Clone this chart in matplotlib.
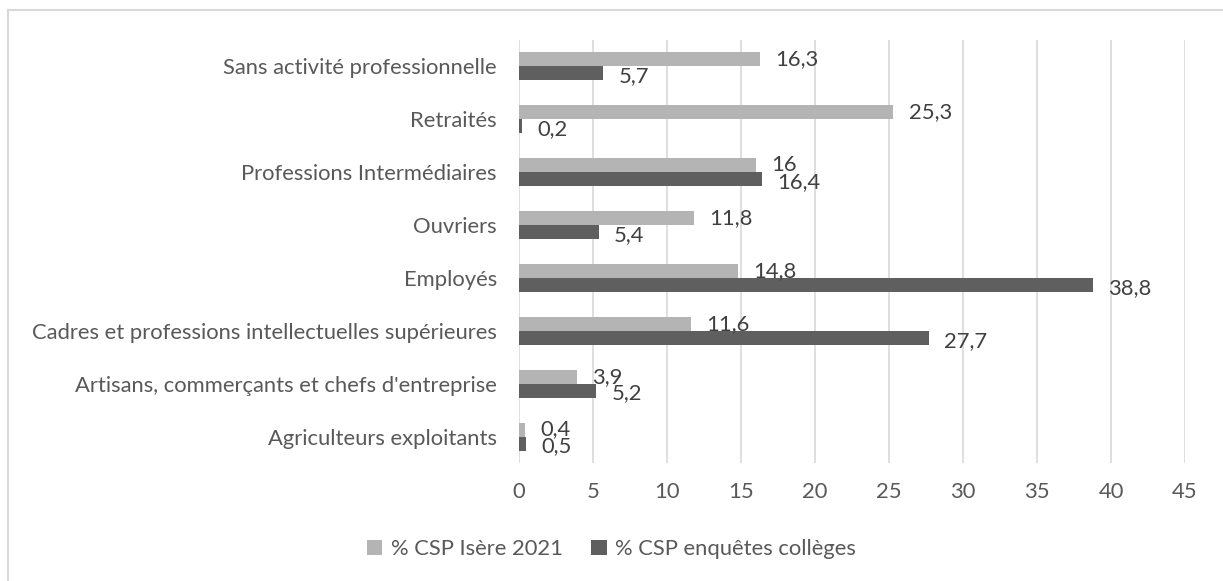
import numpy as np
import matplotlib.pyplot as plt
from matplotlib.lines import Line2D

categories = ['Agriculteurs exploitants',
              "Artisans, commerçants et chefs d'entreprise",
              'Cadres et professions intellectuelles supérieures',
              'Employés',
              'Ouvriers',
              'Professions Intermédiaires',
              'Retraités',
              'Sans activité professionnelle']
isere = [0.4, 3.9, 11.6, 14.8, 11.8, 16, 25.3, 16.3]
colleges = [0.5, 5.2, 27.7, 38.8, 5.4, 16.4, 0.2, 5.7]
series_names = ['% CSP Isère 2021', '% CSP enquêtes collèges']

plt.rcParams['font.family'] = ['Lato', 'DejaVu Sans']
txt = '#595959'
c_light = '#B4B4B4'
c_dark = '#5F5F5F'
fs = 15.8

fig = plt.figure(figsize=(12.23, 5.81), dpi=100)
ax = fig.add_axes([519/1223, 1-463/581, (1185-519)/1223, (463-40)/581])

y = np.arange(len(categories))
h = 0.265
b1 = ax.barh(y + h/2, isere, height=h, color=c_light, label=series_names[0], zorder=3)
b2 = ax.barh(y - h/2, colleges, height=h, color=c_dark, label=series_names[1], zorder=3)

def fmt(v):
    s = ('%g' % v).replace('.', ',')
    return s

# étiquettes de données (se chevauchent un peu comme dans l'original)
for yi, v in zip(y, isere):
    ax.annotate(fmt(v), (v, yi + h/2), xytext=(11, 0), textcoords='offset points',
                va='center', ha='left', fontsize=fs, color='#404040')
for yi, v in zip(y, colleges):
    ax.annotate(fmt(v), (v, yi - h/2), xytext=(11, -2), textcoords='offset points',
                va='center', ha='left', fontsize=fs, color='#404040')

ax.set_xlim(0, 45)
ax.set_ylim(-0.5, len(categories) - 0.5)
ax.set_xticks(np.arange(0, 46, 5))
ax.set_yticks(y)
ax.set_yticklabels(categories)
ax.tick_params(axis='both', length=0, labelsize=fs, labelcolor=txt)
ax.tick_params(axis='y', pad=16)
ax.tick_params(axis='x', pad=14)
ax.grid(axis='x', color='#D9D9D9', lw=1.2, zorder=0)
for s in ax.spines.values():
    s.set_visible(False)

fig.legend(handles=[b1, b2], loc='center', bbox_to_anchor=(0.5, 1-549/581), ncol=2,
           frameon=False, fontsize=fs, labelcolor=txt, handlelength=0.7,
           handleheight=0.7, handletextpad=0.4, columnspacing=1.3)

# cadre du graphique
fig.add_artist(Line2D([8/1223, 1.0], [1-10/581, 1-10/581], color='#D9D9D9', lw=1.5))
fig.add_artist(Line2D([8/1223, 8/1223], [0.0, 1-10/581], color='#D9D9D9', lw=1.5))

fig.savefig('out.png', dpi=100)
